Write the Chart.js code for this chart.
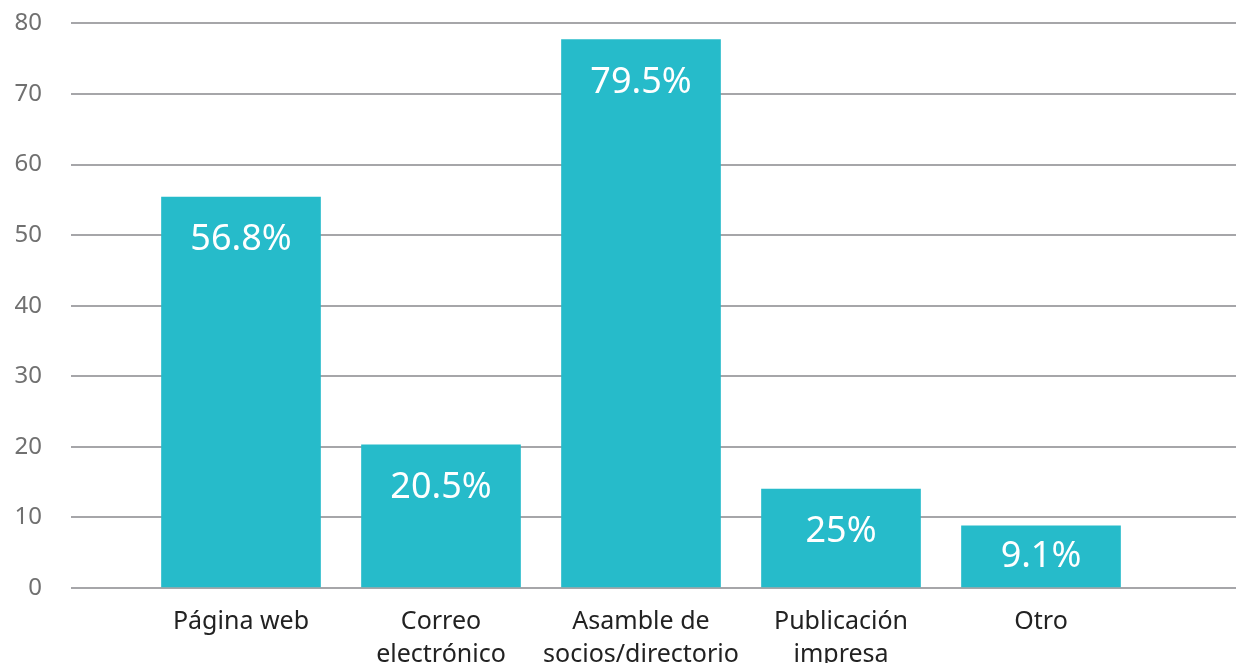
<!DOCTYPE html>
<html>
<head>
<meta charset="utf-8">
<script src="https://cdn.jsdelivr.net/npm/chart.js@4"></script>
<style>
  html, body { margin: 0; padding: 0; background: #fff; overflow: hidden; }
  #outer { width: 1236px; height: 663px; overflow: hidden; position: relative; }
  #wrap { width: 1236px; height: 683px; position: absolute; top: -20px; left: 0; }
</style>
</head>
<body>
<div id="outer"><div id="wrap"><canvas id="chart"></canvas></div></div>
<script>
    var categories = [['Página web'], ['Correo', 'electrónico'], ['Asamble de', 'socios/directorio'], ['Publicación', 'impresa'], ['Otro']];
    var barValues = [55.4, 20.3, 77.7, 14.0, 8.8];
    var barLabels = ['56.8%', '20.5%', '79.5%', '25%', '9.1%'];
    var yTicks = [0, 10, 20, 30, 40, 50, 60, 70, 80];

    var FONT = '"Noto Sans", sans-serif';

    // white percentage labels inside the bars
    var insideLabels = {
        id: 'insideLabels',
        afterDatasetsDraw: function (chart) {
            var ctx = chart.ctx;
            var meta = chart.getDatasetMeta(0);
            ctx.save();
            ctx.fillStyle = '#ffffff';
            ctx.font = '36px ' + FONT;
            ctx.textAlign = 'center';
            ctx.textBaseline = 'middle';
            meta.data.forEach(function (bar, i) {
                var off = Math.min(43, (bar.base - bar.y) / 2);
                ctx.fillText(barLabels[i], bar.x, bar.y + off);
            });
            ctx.restore();
        }
    };

    var ctx = document.getElementById('chart').getContext('2d');
    new Chart(ctx, {
        type: 'bar',
        data: {
            datasets: [{
                data: barValues.map(function (v, i) { return { x: i, y: v }; }),
                backgroundColor: '#26bbca',
                barThickness: 159
            }]
        },
        options: {
            responsive: true,
            maintainAspectRatio: false,
            animation: false,
            plugins: {
                legend: { display: false },
                tooltip: { enabled: false }
            },
            scales: {
                x: {
                    type: 'linear',
                    offset: false,
                    min: -0.85,
                    max: 4.975,
                    afterBuildTicks: function (axis) {
                        axis.ticks = categories.map(function (c, i) { return { value: i }; });
                    },
                    afterFit: function (axis) { axis.height = 75; },
                    grid: { display: false },
                    border: { display: false },
                    ticks: {
                        autoSkip: false,
                        maxRotation: 0,
                        padding: 10,
                        color: '#222222',
                        font: { family: FONT, size: 25, lineHeight: 1.3 },
                        callback: function (value) { return categories[value]; }
                    }
                },
                y: {
                    min: 0,
                    max: 80,
                    afterBuildTicks: function (axis) {
                        axis.ticks = yTicks.map(function (v) { return { value: v }; });
                    },
                    afterFit: function (axis) { axis.width = 71; },
                    border: { display: false },
                    grid: {
                        color: '#a6a6a9',
                        lineWidth: 2,
                        drawTicks: false
                    },
                    ticks: {
                        padding: 29,
                        color: '#707070',
                        font: { family: FONT, size: 24 }
                    }
                }
            }
        },
        plugins: [insideLabels]
    });
</script>
</body>
</html>
